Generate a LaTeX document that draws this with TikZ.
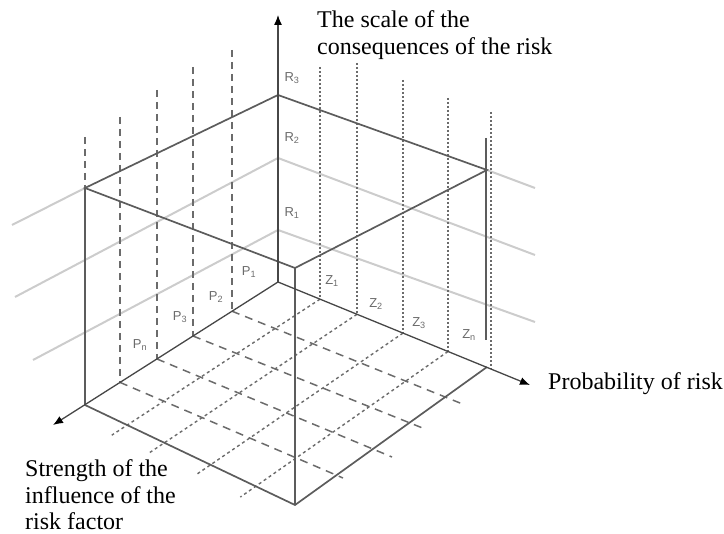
\documentclass[tikz,border=0pt]{standalone}
\usepackage{fontspec}
\setmainfont{Liberation Serif}
\newfontfamily\lblfont{Liberation Sans}
\usetikzlibrary{arrows.meta,calc}
\tikzset{
  axis/.style={draw=black!72, line width=1.3pt},
  tip/.style={-{Latex[length=10pt,width=8pt,fill=black,color=black]}},
  edge/.style={draw=black!64, line width=1.7pt},
  level/.style={draw=black!20, line width=2pt},
  pdash/.style={draw=black!58, line width=1.5pt, dash pattern=on 7pt off 5pt},
  zdot/.style={draw=black!58, line width=1.6pt, dash pattern=on 1.8pt off 2.2pt},
  fdash/.style={draw=black!58, line width=1.5pt, dash pattern=on 8pt off 6pt},
  fdot/.style={draw=black!58, line width=1.4pt, dash pattern=on 3pt off 3pt},
  lbl/.style={text=black!58, font=\lblfont\fontsize{13}{13}\selectfont, inner sep=0pt},
  title/.style={font=\fontsize{24}{26.5}\selectfont, inner sep=0pt, align=left},
}
\begin{document}
\begin{tikzpicture}[x=1pt,y=-1pt]
\useasboundingbox (0,0) rectangle (724,534);
% main points
\coordinate (O) at (278,282);
\coordinate (Vtop) at (278,15);
\coordinate (Ptip) at (53,425);
\coordinate (Ztip) at (530,385);
\coordinate (L) at (85,405);
\coordinate (F) at (295,505);
\coordinate (R) at (487,367);
\coordinate (TB) at (278,95);
\coordinate (TL) at (85,188);
\coordinate (TF) at (295,268);
\coordinate (TR) at (487,170);
\coordinate (RV1) at (486,138);
\coordinate (RV2) at (486,340);
% level lines
\coordinate (G3L) at (12,225);
\coordinate (G3R) at (535,188);
\coordinate (V2) at (278,158);
\coordinate (G2L) at (15,297);
\coordinate (G2R) at (535,255);
\coordinate (V1) at (278,230);
\coordinate (G1L) at (33,360);
\coordinate (G1R) at (535,322);
\draw[level] (G3L) -- (TL);
\draw[level] (TR) -- (G3R);
\draw[level] (G2L) -- (V2) -- (G2R);
\draw[level] (G1L) -- (V1) -- (G1R);
% P-side dashed verticals
\foreach \i/\x/\t/\b in {1/232/50/311.2, 2/193/67/336, 3/157/90/359, 4/120/117/382.4, 5/85/137/405}{
  \coordinate (pt\i) at (\x,\t);
  \coordinate (p\i) at (\x,\b);
  \draw[pdash] (pt\i) -- (p\i);
}
% Z-side dotted verticals
\foreach \i/\x/\t/\b in {1/320/67/299.2, 2/357/63/314.3, 3/403/80/333.1, 4/448/98/351.5, 5/491/112/369}{
  \coordinate (zt\i) at (\x,\t);
  \coordinate (z\i) at (\x,\b);
  \draw[zdot] (zt\i) -- (z\i);
}
% floor grid
\foreach \i/\x/\y in {1/465/405, 2/425/429, 3/392/457, 4/343/478}{
  \coordinate (e\i) at (\x,\y);
  \draw[fdash] (p\i) -- (e\i);
}
\foreach \i/\x/\y in {1/127.2/425.1, 2/164.4/442.8, 3/210.6/464.8, 4/255.7/486.3}{
  \coordinate (w\i) at (\x,\y);
  \draw[fdot] (z\i) -- ($(z\i)!1.08!(w\i)$);
}
% solid edges
\draw[edge] (TL) -- (TB) -- (TR) -- (TF) -- cycle;
\draw[edge] (TL) -- (L) -- (F) -- (R);
\draw[edge] (TF) -- (F);
\draw[edge] (RV1) -- (RV2);
% axes
\draw[axis,tip] (O) -- (Vtop);
\draw[axis,tip] (O) -- (Ptip);
\draw[axis,tip] (O) -- (Ztip);
% small labels
\node[lbl] (r3) at (292,78) {R\textsubscript{3}};
\node[lbl] (r2) at (292,138) {R\textsubscript{2}};
\node[lbl] (r1) at (292,213) {R\textsubscript{1}};
\node[lbl] (lp1) at (249,272) {P\textsubscript{1}};
\node[lbl] (lp2) at (216,297) {P\textsubscript{2}};
\node[lbl] (lp3) at (180,317) {P\textsubscript{3}};
\node[lbl] (lpn) at (140,345) {P\textsubscript{n}};
\node[lbl] (lz1) at (332,281) {Z\textsubscript{1}};
\node[lbl] (lz2) at (376,304) {Z\textsubscript{2}};
\node[lbl] (lz3) at (419,323) {Z\textsubscript{3}};
\node[lbl] (lzn) at (469,335) {Z\textsubscript{n}};
% titles
\node[title, anchor=north west] (ttl) at (317,10.5) {The scale of the\\consequences of the risk};
\node[title, anchor=base west] (prob) at (548,390) {Probability of risk};
\node[title, anchor=north west] (str) at (25,459.5) {Strength of the\\influence of the\\risk factor};
\end{tikzpicture}
\end{document}
